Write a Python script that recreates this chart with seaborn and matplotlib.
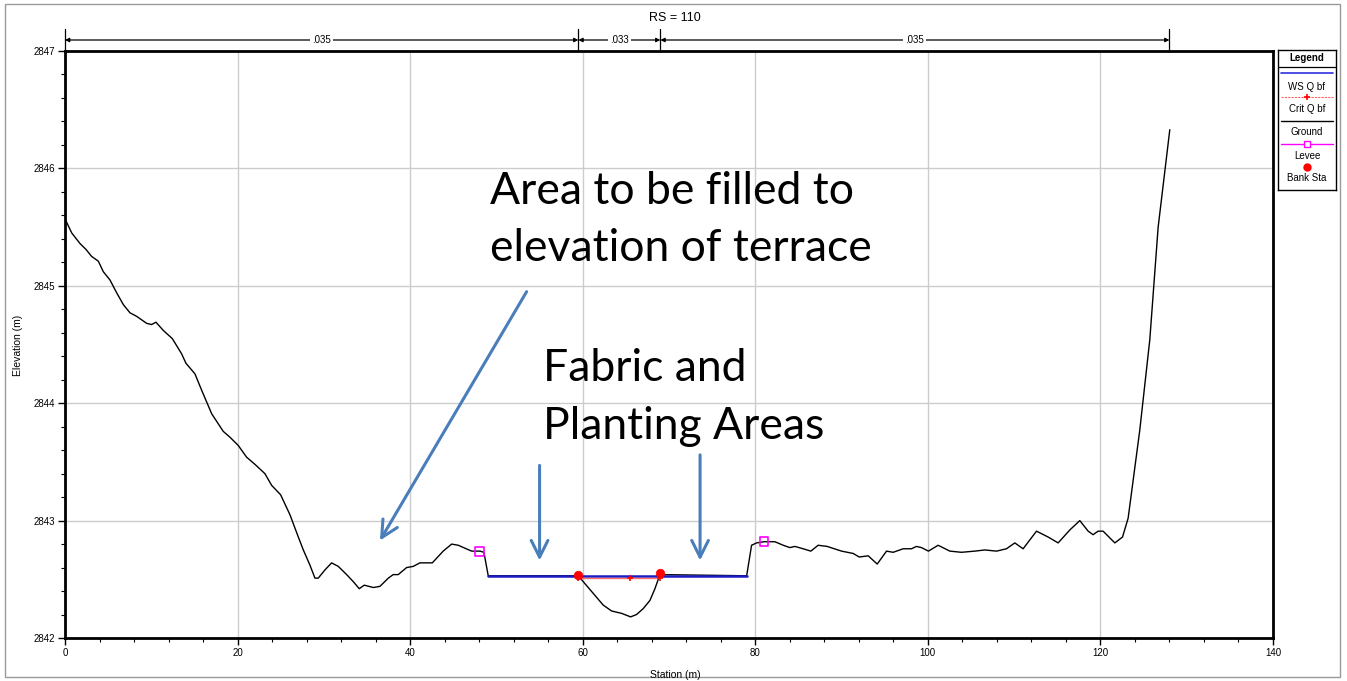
import numpy as np
import pandas as pd
import matplotlib
matplotlib.use("Agg")
import matplotlib.pyplot as plt
import matplotlib.transforms as mtransforms
from matplotlib.ticker import MultipleLocator
from matplotlib.patches import Rectangle
import seaborn as sns

# ---------------- data ----------------
station = [0.0, 0.78, 1.74, 2.43, 3.09, 3.86, 4.44, 5.21, 5.99, 6.76, 7.53, 8.30, 9.47,
           10.04, 10.54, 11.39, 12.44, 13.52, 14.02, 15.06, 15.84, 17.0, 18.34, 19.12,
           20.08, 21.05, 22.0, 23.17, 23.95, 24.99, 26.07, 27.04, 27.62, 28.39, 28.97,
           29.35, 30.13, 30.90, 31.67, 32.64, 33.41, 34.10, 34.68, 35.73, 36.50, 37.47,
           38.04, 38.62, 39.59, 40.36, 41.13, 42.57, 43.83, 44.81, 45.57, 47.13, 48.09,
           48.55, 49.05, 59.48, 60.06, 61.22, 62.38, 63.35, 64.50, 65.55, 66.24, 67.01,
           67.79, 68.37, 68.95, 79.0, 79.57, 80.15, 81.03, 82.27, 83.24, 84.01, 84.59,
           85.55, 86.44, 87.29, 88.33, 90.0, 91.35, 92.04, 93.09, 94.13, 95.21, 95.98,
           97.14, 98.10, 98.68, 99.26, 100.07, 101.19, 102.55, 103.90, 105.44, 106.60,
           107.96, 109.11, 110.08, 111.04, 112.59, 113.94, 115.10, 116.45, 117.61,
           118.58, 119.15, 119.73, 120.31, 121.67, 122.56, 123.21, 124.56, 125.72,
           126.69, 128.04]
elevation = [2845.57, 2845.45, 2845.36, 2845.31, 2845.25, 2845.21, 2845.12, 2845.05,
             2844.94, 2844.84, 2844.77, 2844.74, 2844.68, 2844.67, 2844.69, 2844.62,
             2844.55, 2844.42, 2844.34, 2844.25, 2844.11, 2843.91, 2843.76, 2843.71,
             2843.64, 2843.54, 2843.48, 2843.40, 2843.30, 2843.22, 2843.05, 2842.86,
             2842.75, 2842.62, 2842.51, 2842.51, 2842.58, 2842.64, 2842.61, 2842.54,
             2842.48, 2842.42, 2842.45, 2842.43, 2842.44, 2842.51, 2842.54, 2842.54,
             2842.60, 2842.61, 2842.64, 2842.64, 2842.74, 2842.80, 2842.79, 2842.74,
             2842.74, 2842.73, 2842.53, 2842.53, 2842.48, 2842.38, 2842.28, 2842.23,
             2842.21, 2842.18, 2842.20, 2842.25, 2842.32, 2842.42, 2842.54, 2842.53,
             2842.79, 2842.81, 2842.82, 2842.82, 2842.79, 2842.77, 2842.78, 2842.76,
             2842.74, 2842.79, 2842.78, 2842.74, 2842.72, 2842.69, 2842.70, 2842.63,
             2842.74, 2842.73, 2842.76, 2842.76, 2842.78, 2842.77, 2842.74, 2842.79,
             2842.74, 2842.73, 2842.74, 2842.75, 2842.74, 2842.76, 2842.81, 2842.76,
             2842.91, 2842.86, 2842.81, 2842.92, 2843.00, 2842.91, 2842.88, 2842.91,
             2842.91, 2842.81, 2842.86, 2843.02, 2843.77, 2844.54, 2845.50, 2846.33]

ws_station = [49.0, 79.0]
ws_elevation = [2842.53, 2842.53]
crit_station = [59.5, 65.5, 68.95]
crit_elevation = [2842.51, 2842.51, 2842.51]
levee_station = [48.0, 81.0]
levee_elevation = [2842.74, 2842.82]
bank_station = [59.5, 68.95]
bank_elevation = [2842.54, 2842.55]

n_breaks = [0.0, 59.5, 69.0, 128.0]
n_values = [".035", ".033", ".035"]

x_ticks = [0, 20, 40, 60, 80, 100, 120, 140]
y_ticks = [2842, 2843, 2844, 2845, 2846, 2847]

title_text = "RS = 110"
x_label = "Station (m)"
y_label = "Elevation (m)"
note_fill = "Area to be filled to\nelevation of terrace"
note_fabric = "Fabric and\nPlanting Areas"
legend_labels = ["WS Q bf", "Crit Q bf", "Ground", "Levee", "Bank Sta"]

# ---------------- figure ----------------
sns.set_style("white")
plt.rcParams["font.family"] = ["Liberation Sans", "DejaVu Sans"]
plt.rcParams["text.color"] = "black"
plt.rcParams["xtick.color"] = "black"
plt.rcParams["ytick.color"] = "black"
plt.rcParams["axes.labelcolor"] = "black"

W, H = 1347, 681
fig = plt.figure(figsize=(W / 100, H / 100), dpi=100)
ax = fig.add_axes([65 / W, 1 - 638 / H, (1273 - 65) / W, (638 - 51) / H])

ground = pd.DataFrame({"Station": station, "Elevation": elevation})
ws = pd.DataFrame({"Station": ws_station, "Elevation": ws_elevation})
crit = pd.DataFrame({"Station": crit_station, "Elevation": crit_elevation})

sns.lineplot(data=ground, x="Station", y="Elevation", ax=ax, color="black", lw=1.0,
             sort=False, zorder=3)
sns.lineplot(data=ws, x="Station", y="Elevation", ax=ax, color="#1c1cc4", lw=1.8,
             sort=False, zorder=4)
sns.lineplot(data=crit, x="Station", y="Elevation", ax=ax, color="#ff7070", lw=1.0,
             sort=False, zorder=5, marker="+", markersize=5, markeredgecolor="red",
             markeredgewidth=1.2)
sns.scatterplot(x=levee_station, y=levee_elevation, ax=ax, marker="s", s=40,
                facecolor="none", edgecolor="magenta", linewidth=1.2, zorder=6)
sns.scatterplot(x=bank_station, y=bank_elevation, ax=ax, marker="o", s=38,
                color="red", edgecolor="red", zorder=7)

ax.set_xlim(0, 140)
ax.set_ylim(2842, 2847)
ax.set_xticks(x_ticks)
ax.set_yticks(y_ticks)
ax.xaxis.set_minor_locator(MultipleLocator(4))
ax.yaxis.set_minor_locator(MultipleLocator(0.2))
ax.tick_params(axis="both", which="major", direction="out", length=5, width=1,
               labelsize=7, pad=2, color="black", labelcolor="black",
               left=True, bottom=True)
ax.tick_params(axis="both", which="minor", direction="out", length=3, width=0.8,
               color="black", left=True, bottom=True)
ax.grid(True, which="major", color="#cccccc", lw=1.0)
ax.set_axisbelow(True)
for sp in ax.spines.values():
    sp.set_visible(True)
    sp.set_color("black")
    sp.set_linewidth(2.0)
ax.set_xlabel("")
ax.set_ylabel("")
fig.text(675 / W, 1 - 675 / H, x_label, ha="center", va="center", fontsize=7.5)
fig.text(18 / W, 1 - 345 / H, y_label, ha="center", va="center", fontsize=7.5,
         rotation=90)
fig.text(675 / W, 1 - 18 / H, title_text, ha="center", va="center", fontsize=9)

# Manning's n bar above the plot
trans = mtransforms.blended_transform_factory(ax.transData, ax.transAxes)
bar_y = 1 + 11 / 587
for b in n_breaks:
    ax.plot([b, b], [1.0, 1 + 22 / 587], transform=trans, color="black", lw=0.9,
            clip_on=False)
for (a, b), lab in zip(zip(n_breaks[:-1], n_breaks[1:]), n_values):
    ax.annotate("", xy=(b, bar_y), xytext=(a, bar_y), xycoords=trans, textcoords=trans,
                arrowprops=dict(arrowstyle="<|-|>", color="black", lw=0.9,
                                mutation_scale=6, shrinkA=0, shrinkB=0),
                annotation_clip=False)
    ax.text((a + b) / 2, bar_y, lab, transform=trans, ha="center", va="center",
            fontsize=7, bbox=dict(facecolor="white", edgecolor="none", pad=1.5),
            clip_on=False)

# annotations
arrow_col = "#4a7ebb"
ax.text(49.2, 2845.98, note_fill, ha="left", va="top", fontsize=32, color="black",
        family=["Lato", "DejaVu Sans"], linespacing=1.5, zorder=8)
ax.text(55.4, 2844.47, note_fabric, ha="left", va="top", fontsize=32, color="black",
        family=["Lato", "DejaVu Sans"], linespacing=1.5, zorder=8)
arrow_kw = dict(arrowstyle="->", color=arrow_col, lw=2.2, mutation_scale=30,
                shrinkA=0, shrinkB=0)
ax.annotate("", xy=(36.5, 2842.83), xytext=(53.5, 2844.95), arrowprops=arrow_kw)
ax.annotate("", xy=(55.0, 2842.66), xytext=(55.0, 2843.47), arrowprops=arrow_kw)
ax.annotate("", xy=(73.6, 2842.66), xytext=(73.6, 2843.56), arrowprops=arrow_kw)

# legend box (custom, HEC-RAS style)
lax = fig.add_axes([1278 / W, 1 - 190 / H, (1336 - 1278) / W, (190 - 50) / H])
lax.set_xlim(0, 1)
lax.set_ylim(190, 50)
lax.set_xticks([])
lax.set_yticks([])
for sp in lax.spines.values():
    sp.set_linewidth(1.0)
    sp.set_color("black")
lax.text(0.5, 58, "Legend", ha="center", va="center", fontsize=7, fontweight="bold")
lax.plot([0, 1], [67, 67], color="black", lw=0.9)
lax.plot([0.05, 0.95], [73, 73], color="#3030e0", lw=1.2)
lax.text(0.5, 87, legend_labels[0], ha="center", va="center", fontsize=7)
lax.plot([0.05, 0.95], [97, 97], color="#ff6060", lw=0.8, ls=(0, (2, 1)))
lax.plot([0.5], [97], marker="+", color="red", markersize=4, mew=1.2)
lax.text(0.5, 109, legend_labels[1], ha="center", va="center", fontsize=7)
lax.plot([0.05, 0.95], [121, 121], color="black", lw=1.0)
lax.text(0.5, 132, legend_labels[2], ha="center", va="center", fontsize=7)
lax.plot([0.05, 0.95], [144, 144], color="magenta", lw=1.0)
lax.plot([0.5], [144], marker="s", mfc="white", mec="magenta", markersize=5, mew=1)
lax.text(0.5, 156, legend_labels[3], ha="center", va="center", fontsize=7)
lax.plot([0.5], [167], marker="o", color="red", markersize=5)
lax.text(0.5, 178, legend_labels[4], ha="center", va="center", fontsize=7)

# outer frame
fig.patches.append(Rectangle((5 / W, 4 / H), (1340 - 5) / W, (677 - 4) / H,
                             transform=fig.transFigure, fill=False,
                             edgecolor="#9a9a9a", lw=1.0))

fig.savefig("out.png", dpi=100)
